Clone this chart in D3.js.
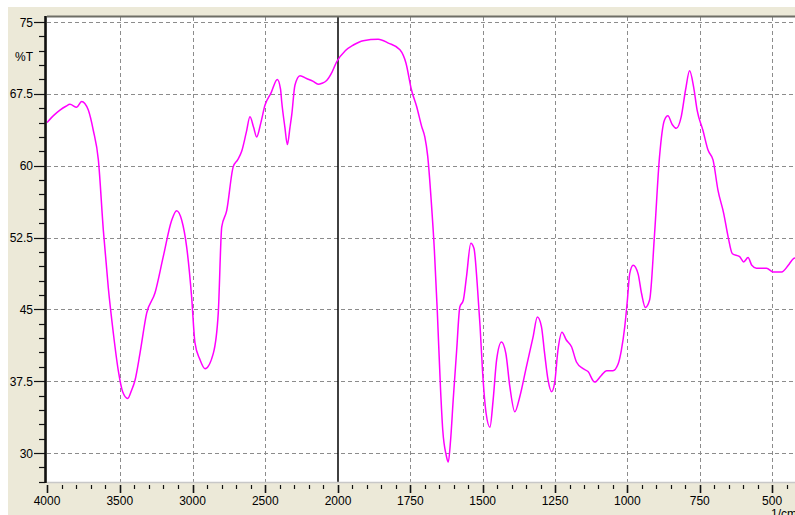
<!DOCTYPE html>
<html>
<head>
<meta charset="utf-8">
<script src="https://cdn.jsdelivr.net/npm/d3@7"></script>
<style>
  body { margin: 0; background: #fff; }
  svg { display: block; font-family: "Liberation Sans", Arial, sans-serif; }
</style>
</head>
<body>
<div id="chart"></div>
<script>
// spectrum (wavenumber in 1/cm, transmittance in %T)
const wavenumbers = [4000, 3950, 3911, 3870, 3842, 3796, 3762, 3740, 3716, 3682, 3647, 3613, 3579, 3544, 3510, 3480,
  3445, 3420, 3395, 3361, 3315, 3258, 3201, 3143, 3109, 3074, 3040, 3006, 2983, 2950, 2914, 2857, 2823, 2799, 2765,
  2720, 2690, 2662, 2630, 2605, 2580, 2559, 2530, 2502, 2460, 2417, 2395, 2387, 2365, 2348, 2330, 2318, 2296, 2261,
  2216, 2170, 2136, 2110, 2078, 2040, 2009, 1975, 1947, 1913, 1861, 1826, 1786, 1765, 1746, 1728, 1711, 1700, 1690,
  1678, 1667, 1657, 1646, 1638, 1626, 1619, 1611, 1602, 1590, 1579, 1567, 1556, 1541, 1530, 1519, 1509, 1500, 1488,
  1475, 1464, 1452, 1435, 1420, 1406, 1389, 1372, 1349, 1326, 1311, 1297, 1286, 1274, 1262, 1251, 1240, 1226, 1211,
  1193, 1176, 1153, 1136, 1113, 1090, 1072, 1050, 1032, 1021, 1009, 1000, 992, 980, 963, 951, 938, 923, 906, 889,
  872, 860, 845, 831, 814, 799, 785, 771, 759, 739, 721, 704, 687, 667, 652, 637, 612, 598, 583, 570, 554, 519, 496,
  467, 444, 426, 415];
const transmittance = [64.5, 65.3, 65.8, 66.2, 66.4, 66.1, 66.7, 66.5, 65.8, 63.7, 60.6, 53.3, 47.3, 42.5, 38.6, 36.4,
  35.7, 36.5, 37.6, 40.4, 44.6, 46.7, 50.5, 54.3, 55.3, 54.3, 51.5, 46.3, 41.5, 39.8, 38.8, 40.4, 44.6, 53.6, 55.3,
  59.9, 60.6, 61.5, 63.5, 65.1, 64.0, 63.0, 64.5, 66.3, 67.6, 69.0, 68.0, 66.7, 64.0, 62.2, 64.0, 65.3, 68.4, 69.4,
  69.1, 68.8, 68.5, 68.6, 68.9, 69.8, 70.85, 72.0, 72.6, 73.05, 73.2, 72.8, 72.1, 70.7, 67.9, 66.15, 64.1, 63.0, 61.0,
  56.4, 51.2, 44.9, 36.9, 32.4, 29.75, 29.05, 31.3, 35.5, 40.7, 45.25, 45.95, 48.4, 51.9, 51.35, 47.7, 43.2, 38.3, 34.1,
  32.7, 35.5, 39.7, 41.6, 40.4, 36.9, 34.3, 35.85, 39.0, 42.1, 44.2, 43.2, 40.4, 37.6, 36.4, 37.4, 40.7, 42.6, 41.8,
  41.1, 39.5, 38.8, 38.5, 37.4, 38.1, 38.6, 38.6, 39.3, 40.7, 43.2, 45.95, 48.7, 49.6, 48.7, 46.65, 45.2, 46.0, 52.9, 60.9,
  64.75, 65.2, 64.3, 63.9, 65.1, 67.9, 69.9, 68.2, 65.8, 63.7, 61.6, 60.6, 57.45, 55.0, 52.6, 50.8, 50.5, 49.95, 50.4, 49.6, 49.3, 49.3, 48.9,
  48.9, 49.6, 50.3, 50.4];

const xMajorTicks = [4000, 3500, 3000, 2500, 2000, 1750, 1500, 1250, 1000, 750, 500];
const yMajorTicks = [75, 67.5, 60, 52.5, 45, 37.5, 30];
const yLabel = "%T";
const xLabel = "1/cm";

const width = 795, height = 515;
const plot = { left: 47, right: 801, top: 17, bottom: 482 };

// the spectrometer plots 4000-2000 at half the scale of 2000-400
const x = d3.scaleLinear().domain([4000, 2000, 400]).range([47, 338, 801]);
const y = d3.scaleLinear().domain([30, 75]).range([453, 22]);

const data = wavenumbers.map((w, i) => ({ w: w, t: transmittance[i] }));

const svg = d3.select("#chart").append("svg")
  .attr("width", width)
  .attr("height", height);

// window background
svg.append("rect").attr("x", 8).attr("y", 7).attr("width", width).attr("height", height)
  .attr("fill", "#ece9d8");
svg.append("rect").attr("x", plot.left).attr("y", plot.top)
  .attr("width", plot.right - plot.left).attr("height", plot.bottom - plot.top)
  .attr("fill", "#fff");

svg.append("defs").append("clipPath").attr("id", "clip")
  .append("rect").attr("x", plot.left).attr("y", plot.top)
  .attr("width", plot.right - plot.left).attr("height", plot.bottom - plot.top);

// dashed grid
const grid = svg.append("g").attr("stroke", "#8c8c8c").attr("stroke-dasharray", "4,3").attr("stroke-width", 1);
grid.selectAll(".hgrid").data(yMajorTicks).enter().append("line")
  .attr("x1", plot.left).attr("x2", plot.right)
  .attr("y1", d => Math.round(y(d)) + 0.5).attr("y2", d => Math.round(y(d)) + 0.5);
grid.selectAll(".vgrid").data(xMajorTicks.filter(d => d !== 4000 && d !== 2000)).enter().append("line")
  .attr("x1", d => Math.round(x(d)) + 0.5).attr("x2", d => Math.round(x(d)) + 0.5)
  .attr("y1", plot.top).attr("y2", plot.bottom);

// solid marker where the scale changes
svg.append("line")
  .attr("x1", x(2000)).attr("x2", x(2000))
  .attr("y1", plot.top).attr("y2", plot.bottom)
  .attr("stroke", "#111").attr("stroke-width", 1.6);

// frame
svg.append("line").attr("x1", plot.left).attr("x2", width).attr("y1", plot.top - 0.5).attr("y2", plot.top - 0.5)
  .attr("stroke", "#6e6e66").attr("stroke-width", 2);
svg.append("line").attr("x1", plot.left).attr("x2", width).attr("y1", plot.bottom + 0.5).attr("y2", plot.bottom + 0.5)
  .attr("stroke", "#c8c8c8").attr("stroke-width", 1.5);
svg.append("line").attr("x1", plot.left - 1.5).attr("x2", plot.left - 1.5).attr("y1", plot.top - 1).attr("y2", plot.bottom + 1)
  .attr("stroke", "#111").attr("stroke-width", 2.6);

// spectrum
const line = d3.line()
  .x(d => x(d.w))
  .y(d => y(d.t))
  .curve(d3.curveMonotoneX);

svg.append("path")
  .datum(data)
  .attr("clip-path", "url(#clip)")
  .attr("fill", "none")
  .attr("stroke", "#ff00ff")
  .attr("stroke-width", 1.5)
  .attr("d", line);

// y axis ticks
const yMinor = d3.range(27, 75.01, 1.5);
svg.append("g").selectAll("line").data(yMinor).enter().append("line")
  .attr("x1", d => yMajorTicks.includes(+d.toFixed(1)) ? 34 : 39)
  .attr("x2", plot.left - 2)
  .attr("y1", d => Math.round(y(d)) + 0.5).attr("y2", d => Math.round(y(d)) + 0.5)
  .attr("stroke", "#111").attr("stroke-width", 1.2);

svg.append("g").selectAll("text").data(yMajorTicks).enter().append("text")
  .attr("x", 33).attr("y", d => y(d) + 4.5)
  .attr("text-anchor", "end")
  .attr("font-size", 12)
  .attr("fill", "#000")
  .text(d => d);

svg.append("text").attr("x", 33).attr("y", 61)
  .attr("text-anchor", "end").attr("font-size", 12).attr("fill", "#000")
  .text(yLabel);

// x axis ticks
const xMinor = d3.range(4000, 2000, -100).concat(d3.range(2000, 400, -50));
svg.append("g").selectAll("line").data(xMinor).enter().append("line")
  .attr("x1", d => Math.round(x(d)) + 0.5).attr("x2", d => Math.round(x(d)) + 0.5)
  .attr("y1", 485)
  .attr("y2", d => xMajorTicks.includes(d) ? 493 : 489)
  .attr("stroke", "#111").attr("stroke-width", d => xMajorTicks.includes(d) ? 1.6 : 1.2);

svg.append("g").selectAll("text").data(xMajorTicks).enter().append("text")
  .attr("x", d => x(d)).attr("y", 505)
  .attr("text-anchor", "middle")
  .attr("font-size", 12)
  .attr("fill", "#000")
  .text(d => d);

svg.append("text").attr("x", 771).attr("y", 518)
  .attr("font-size", 12).attr("fill", "#000")
  .text(xLabel);

// white window margin on the left, over the clipped labels
svg.append("rect").attr("x", 0).attr("y", 0).attr("width", 8).attr("height", height).attr("fill", "#fff");
</script>
</body>
</html>
